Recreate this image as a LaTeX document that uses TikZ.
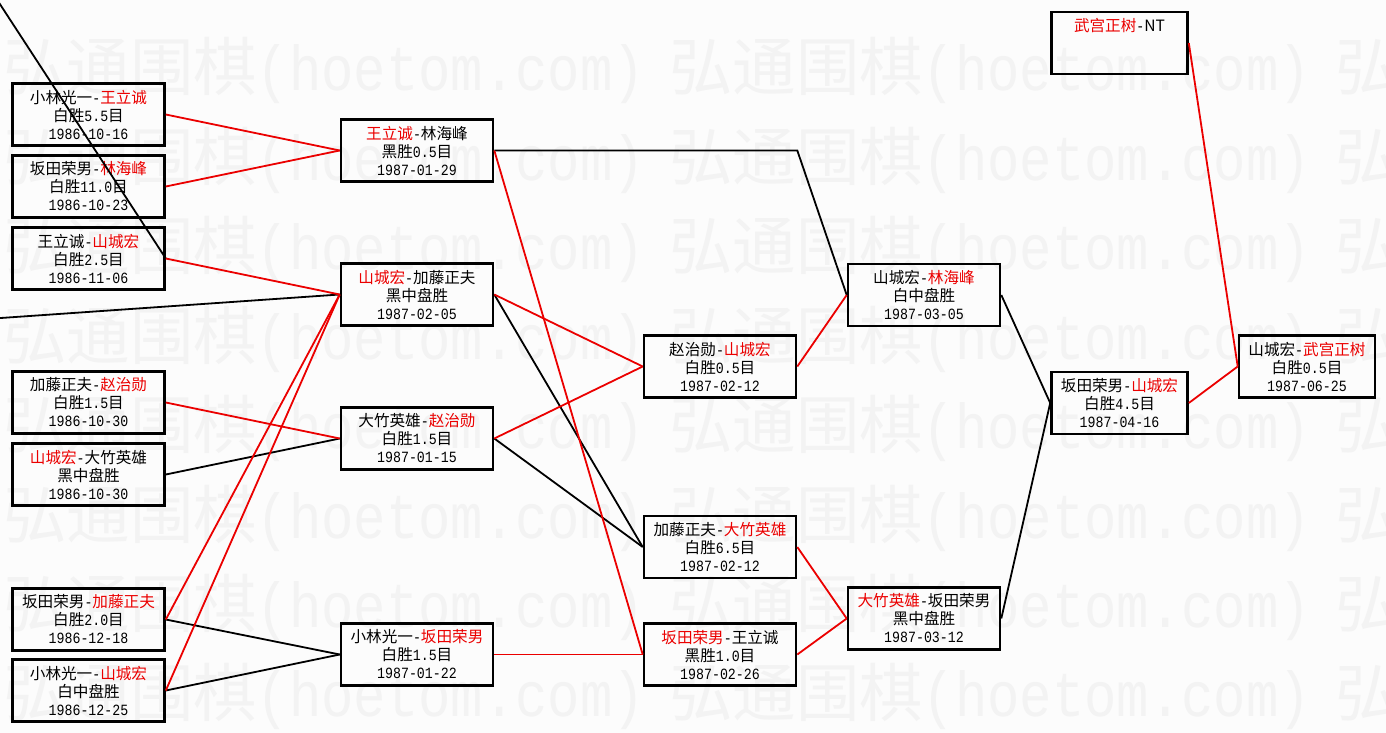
\documentclass[tikz,border=0pt]{standalone}
\usepackage{fontspec}
\setmainfont{Noto Sans CJK SC}
\setmonofont[FakeStretch=0.85]{Liberation Mono}
\usepackage{tikz}
\usetikzlibrary{positioning,calc}
\definecolor{gored}{RGB}{235,0,0}
\definecolor{goblack}{RGB}{0,0,0}
\definecolor{gopaper}{RGB}{252,252,252}
\definecolor{gomark}{RGB}{243,243,243}
\newcommand{\wn}[1]{\textcolor{gored}{#1}}
\newcommand{\vs}[2]{#1\texttt{-}#2}
\newcommand{\game}[3]{#1\\#2\\\texttt{#3}}

\begin{document}
\begin{tikzpicture}[x=1pt, y=-1pt,
  gamebox/.style={draw, line width=2.6pt, minimum width=152pt, minimum height=62pt, inner sep=0pt, align=center, font=\fontsize{15.6}{18}\selectfont},
  smallbox/.style={gamebox, minimum width=136pt},
  watermark/.style={anchor=base west, inner sep=0pt, text=gomark, font=\fontsize{63.4}{70}\selectfont},
  winline/.style={gored, line width=1.8pt},
  loseline/.style={goblack, line width=1.8pt}]
\useasboundingbox (0,0) rectangle (1386,733);
\fill[gopaper] (0,0) rectangle (1386,733);
% Watermark
\foreach \r in {0,...,7}
  \foreach \c in {0,1,2}
    \node[watermark] (wm-\r-\c) at (3+666*\c, 91+89.4*\r) {弘通围棋\texttt{(hoetom.com)}};
% Round 1
\node[gamebox] (kw) at (88.5,114.5) {\game{\vs{小林光一}{\wn{王立诚}}}{白胜\texttt{5.5}目}{1986-10-16}};
\node[gamebox] (sl) at (88.5,186.5) {\game{\vs{坂田荣男}{\wn{林海峰}}}{白胜\texttt{11.0}目}{1986-10-23}};
\node[gamebox] (wy) at (88.5,258.5) {\game{\vs{王立诚}{\wn{山城宏}}}{白胜\texttt{2.5}目}{1986-11-06}};
\node[gamebox] (kc) at (88.5,402.5) {\game{\vs{加藤正夫}{\wn{赵治勋}}}{白胜\texttt{1.5}目}{1986-10-30}};
\node[gamebox] (yo) at (88.5,474.5) {\game{\vs{\wn{山城宏}}{大竹英雄}}{黑中盘胜}{1986-10-30}};
\node[gamebox] (sk) at (88.5,619.5) {\game{\vs{坂田荣男}{\wn{加藤正夫}}}{白胜\texttt{2.0}目}{1986-12-18}};
\node[gamebox] (ky) at (88.5,690.5) {\game{\vs{小林光一}{\wn{山城宏}}}{白中盘胜}{1986-12-25}};
\coordinate (offa) at (-6,-5);
\coordinate (offb) at (-5,318.4);
% Round 2
\node[gamebox] (wl) at (417,150.5) {\game{\vs{\wn{王立诚}}{林海峰}}{黑胜\texttt{0.5}目}{1987-01-29}};
\node[gamebox] (yk) at (417,294.5) {\game{\vs{\wn{山城宏}}{加藤正夫}}{黑中盘胜}{1987-02-05}};
\node[gamebox] (oc) at (417,438.5) {\game{\vs{大竹英雄}{\wn{赵治勋}}}{白胜\texttt{1.5}目}{1987-01-15}};
\node[gamebox] (ks) at (417,654.5) {\game{\vs{小林光一}{\wn{坂田荣男}}}{白胜\texttt{1.5}目}{1987-01-22}};
% Round 3
\node[gamebox] (cy) at (720,366.5) {\game{\vs{赵治勋}{\wn{山城宏}}}{白胜\texttt{0.5}目}{1987-02-12}};
\node[gamebox] (ko) at (720,547) {\game{\vs{加藤正夫}{\wn{大竹英雄}}}{白胜\texttt{6.5}目}{1987-02-12}};
\node[gamebox] (sw) at (720,654.5) {\game{\vs{\wn{坂田荣男}}{王立诚}}{黑胜\texttt{1.0}目}{1987-02-26}};
% Round 4
\node[gamebox] (ys) at (924,295) {\game{\vs{山城宏}{\wn{林海峰}}}{白中盘胜}{1987-03-05}};
\node[gamebox] (os) at (924,618.5) {\game{\vs{\wn{大竹英雄}}{坂田荣男}}{黑中盘胜}{1987-03-12}};
% Final
\node[smallbox] (tn) at (1119.5,43) {\vs{\wn{武宫正树}}{NT}\\\mbox{}\\\mbox{}};
\node[smallbox] (sy) at (1119.5,403) {\game{\vs{坂田荣男}{\wn{山城宏}}}{白胜\texttt{4.5}目}{1987-04-16}};
\node[smallbox] (yt) at (1307,366.5) {\game{\vs{山城宏}{\wn{武宫正树}}}{白胜\texttt{0.5}目}{1987-06-25}};
% Losers
\draw[loseline] (offa) -- (wy.east);
\draw[loseline] (offb) -- (yk.west);
\draw[loseline] (yo.east) -- (oc.west);
\draw[loseline] (sk.east) -- (ks.west);
\draw[loseline] (ky.east) -- (ks.west);
\draw[loseline] (wl.east) -- (cy.east |- wl.east) -- (ys.west);
\draw[loseline] (yk.east) -- (ko.west);
\draw[loseline] (oc.east) -- (ko.west);
\draw[loseline] (ys.east) -- (sy.west);
\draw[loseline] (os.east) -- (sy.west);
% Winners
\draw[winline] (kw.east) -- (wl.west);
\draw[winline] (sl.east) -- (wl.west);
\draw[winline] (wy.east) -- (yk.west);
\draw[winline] (kc.east) -- (oc.west);
\draw[winline] (sk.east) -- (yk.west);
\draw[winline] (ky.east) -- (yk.west);
\draw[winline] (wl.east) -- (sw.west);
\draw[winline] (yk.east) -- (cy.west);
\draw[winline] (oc.east) -- (cy.west);
\draw[winline] (ks.east) -- (sw.west);
\draw[winline] (cy.east) -- (ys.west);
\draw[winline] (ko.east) -- (os.west);
\draw[winline] (sw.east) -- (os.west);
\draw[winline] (sy.east) -- (yt.west);
\draw[winline] (tn.east) -- (yt.west);
\end{tikzpicture}
\end{document}
